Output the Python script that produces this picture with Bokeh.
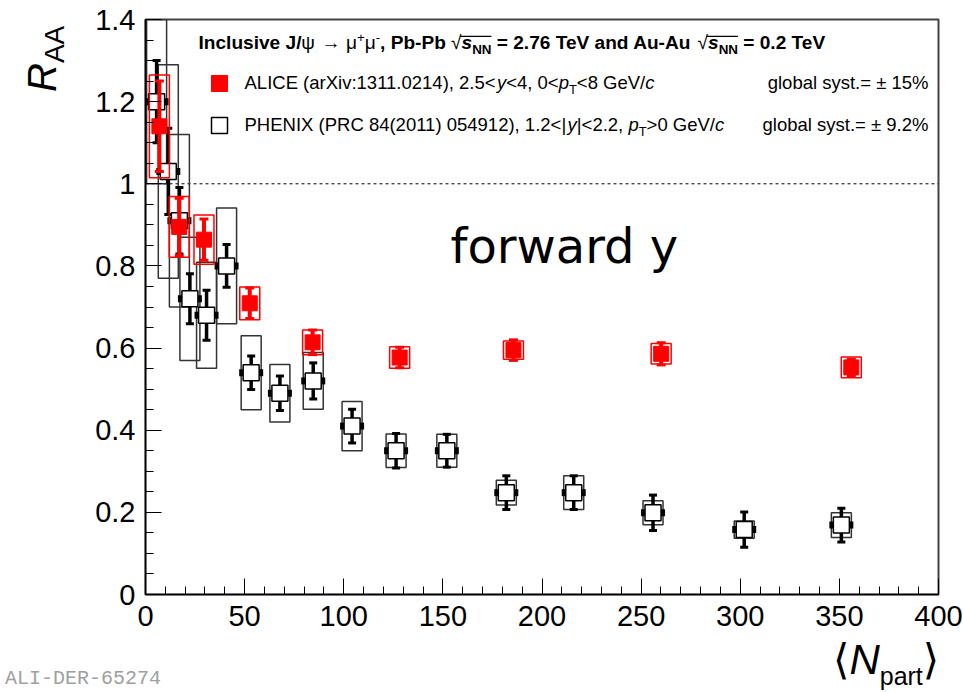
import numpy as np
from bokeh.plotting import figure
from bokeh.models import (ColumnDataSource, Range1d, FixedTicker, Label, Span,
                          Legend, LegendItem, BoxAnnotation, Div)
from bokeh.layouts import row, column
from bokeh.embed import file_html
from bokeh.resources import INLINE

# ---------------- data ----------------
alice_npart = [7.0, 17.0, 29.5, 52.6, 84.3, 128.2, 185.6, 260.1, 356.0]
alice_raa = [1.14, 0.895, 0.864, 0.709, 0.614, 0.577, 0.595, 0.586, 0.553]
alice_stat = [0.11, 0.07, 0.05, 0.037, 0.03, 0.025, 0.025, 0.027, 0.02]
alice_syst = [0.125, 0.074, 0.06, 0.04, 0.03, 0.026, 0.022, 0.025, 0.025]

phenix_npart = [5.6, 11.5, 17.1, 22.4, 30.8, 40.9, 53.3, 67.8, 84.6, 104.2,
                126.4, 152.0, 182.0, 216.0, 256.0, 302.0, 351.0]
phenix_raa = [1.20, 1.03, 0.91, 0.72, 0.68, 0.80, 0.54, 0.49, 0.52, 0.41,
              0.35, 0.35, 0.248, 0.248, 0.199, 0.158, 0.169]
phenix_stat = [0.10, 0.105, 0.081, 0.061, 0.061, 0.052, 0.041, 0.042, 0.044,
               0.041, 0.042, 0.040, 0.041, 0.041, 0.043, 0.043, 0.041]
phenix_syst = [0.20, 0.26, 0.21, 0.15, 0.129, 0.141, 0.09, 0.07, 0.069, 0.06,
               0.041, 0.04, 0.03, 0.041, 0.029, 0.021, 0.03]

x_ticks = [0, 50, 100, 150, 200, 250, 300, 350, 400]
y_ticks = [0.0, 0.2, 0.4, 0.6, 0.8, 1.0, 1.2, 1.4]
y_tick_labels = ["0", "0.2", "0.4", "0.6", "0.8", "1", "1.2", "1.4"]

# ---------------- layout constants ----------------
OX = 70          # width of the left label column (page px)
FIG_W = 963 - OX
FIG_H = 642

p = figure(width=FIG_W, height=FIG_H, x_range=Range1d(0, 400), y_range=Range1d(0, 1.4),
           output_backend="svg", toolbar_location=None,
           min_border_left=145 - OX, min_border_right=963 - 938, min_border_top=19,
           min_border_bottom=FIG_H - 594)
p.grid.visible = False
p.background_fill_color = "white"
p.border_fill_color = "white"
p.outline_line_color = "#444444"
p.outline_line_width = 2

p.xaxis.ticker = FixedTicker(ticks=x_ticks, minor_ticks=list(np.arange(0, 401, 10)))
p.yaxis.ticker = FixedTicker(ticks=y_ticks, minor_ticks=list(np.round(np.arange(0, 1.401, 0.05), 3)))
p.yaxis.major_label_overrides = dict(zip(y_ticks, y_tick_labels))
for ax in (p.xaxis, p.yaxis):
    ax.axis_line_color = "black"
    ax.axis_line_width = 1.5
    ax.major_tick_in = 16
    ax.major_tick_out = 0
    ax.minor_tick_in = 8
    ax.minor_tick_out = 0
    ax.major_tick_line_color = "black"
    ax.minor_tick_line_color = "black"
    ax.major_label_text_font = "Liberation Sans"
    ax.major_label_text_font_size = "29px"
    ax.major_label_text_color = "black"
p.xaxis.major_label_standoff = 11
p.yaxis.major_label_standoff = 10

p.add_layout(Span(location=1.0, dimension="width", line_color="black",
                  line_dash="3 3", line_width=1, level="underlay"))

# ---------------- sources ----------------
ph = ColumnDataSource(dict(
    x=phenix_npart, y=phenix_raa,
    lo=[v - e for v, e in zip(phenix_raa, phenix_stat)],
    hi=[v + e for v, e in zip(phenix_raa, phenix_stat)],
    h=[2 * s for s in phenix_syst]))
al = ColumnDataSource(dict(
    x=alice_npart, y=alice_raa,
    lo=[v - e for v, e in zip(alice_raa, alice_stat)],
    hi=[v + e for v, e in zip(alice_raa, alice_stat)],
    h=[2 * s for s in alice_syst]))

# PHENIX
p.rect("x", "y", width=20, height="h", width_units="screen", source=ph,
       fill_alpha=0, line_color="#333333", line_width=1.5)
p.segment("x", "lo", "x", "hi", source=ph, line_color="black", line_width=3.5)
for col in ("lo", "hi"):
    p.rect("x", col, width=8, height=3, width_units="screen", height_units="screen",
           source=ph, fill_color="black", line_alpha=0)
p.rect("x", "y", width=24, height=7, width_units="screen", height_units="screen",
       source=ph, fill_color="black", line_alpha=0)
phm = p.scatter("x", "y", marker="square", size=16, fill_color="white",
                line_color="black", line_width=1.5, source=ph)

# ALICE
p.rect("x", "y", width=20, height="h", width_units="screen", source=al,
       fill_alpha=0, line_color="#ff0000", line_width=1.5)
p.segment("x", "lo", "x", "hi", source=al, line_color="#ff0000", line_width=4)
for col in ("lo", "hi"):
    p.rect("x", col, width=9, height=3, width_units="screen", height_units="screen",
           source=al, fill_color="#ff0000", line_alpha=0)
am = p.scatter("x", "y", marker="square", size=15, fill_color="#ff0000",
               line_color="#ff0000", source=al)

# legend swatches
leg = Legend(items=[LegendItem(label=" ", renderers=[am]),
                    LegendItem(label=" ", renderers=[phm])],
             location=(54, 449), padding=0, margin=0, spacing=2,
             glyph_width=40, glyph_height=40, label_standoff=0, label_width=1,
             label_height=40, border_line_alpha=0, background_fill_alpha=0,
             label_text_font_size="1px")
p.add_layout(leg)

# ---------------- text helpers ----------------
REG = {' ': 278, '%': 889, '(': 333, ')': 333, '+': 584, ',': 278, '-': 333, '.': 278,
       '/': 278, ':': 278, '<': 584, '=': 584, '>': 584, '|': 260, '\u00b1': 584,
       '\u03bc': 576, '\u03c8': 780, '\u2192': 1000, '\u221a': 549,
       'A': 667, 'B': 667, 'C': 722, 'D': 722, 'E': 667, 'F': 611, 'G': 778, 'H': 722,
       'I': 278, 'J': 500, 'K': 667, 'L': 556, 'M': 833, 'N': 722, 'O': 778, 'P': 667,
       'Q': 778, 'R': 722, 'S': 667, 'T': 611, 'U': 722, 'V': 667, 'W': 944, 'X': 667,
       'Y': 667, 'Z': 611, 'a': 556, 'b': 556, 'c': 500, 'd': 556, 'e': 556, 'f': 278,
       'g': 556, 'h': 556, 'i': 222, 'j': 222, 'k': 500, 'l': 222, 'm': 833, 'n': 556,
       'o': 556, 'p': 556, 'q': 556, 'r': 333, 's': 500, 't': 278, 'u': 556, 'v': 500,
       'w': 722, 'x': 500, 'y': 500, 'z': 500}
BOLD = {' ': 278, '(': 333, ')': 333, ',': 278, '-': 333, '.': 278, '/': 278, '=': 584,
        'A': 722, 'B': 722, 'C': 722, 'D': 722, 'E': 667, 'I': 278, 'J': 556, 'N': 722,
        'P': 667, 'T': 611, 'V': 667, 'a': 556, 'b': 611, 'c': 556, 'd': 611, 'e': 556,
        'i': 278, 'l': 278, 'n': 611, 's': 556, 'u': 611, 'v': 556}

BASE_SHIFT = 0.36   # empirical: rendered baseline sits this many em below the anchor


def width_of(text, style, size):
    tab = BOLD if "bold" in style else REG
    return sum(tab.get(ch, REG.get(ch, 556)) for ch in text) * size / 1000.0


def put(text, x, y, size, style="normal", font="Liberation Sans", color="black",
        align="left"):
    # x, y: page pixels of the text start / baseline
    p.add_layout(Label(x=x - OX, y=y - BASE_SHIFT * size, x_units="canvas",
                       y_units="canvas", text=text,
                       text_font=font, text_font_size=f"{size:.1f}px",
                       text_font_style=style, text_color=color, text_align=align,
                       text_baseline="alphabetic"))


def run(pieces, x, y, size):
    pos = []
    for text, style, kind in pieces:
        s = size * 0.7 if kind else size
        dy = 0.25 * size if kind == "sub" else (-0.38 * size if kind == "sup" else 0)
        lead = len(text) - len(text.lstrip(' '))
        put(text.strip(' '), x + width_of(' ' * lead, style, s), y + dy, s, style)
        w = width_of(text, style, s)
        pos.append((x, w))
        x += w
    return pos


# title
title = [("Inclusive J/", "bold", None), ("\u03c8", "normal", None),
         (" \u2192 ", "normal", None), ("\u03bc", "normal", None), ("+", "normal", "sup"),
         ("\u03bc", "normal", None), ("-", "normal", "sup"), (", Pb-Pb ", "bold", None),
         ("\u221a", "normal", None), ("s", "bold italic", None), ("NN", "bold", "sub"),
         (" = 2.76 TeV and Au-Au ", "bold", None), ("\u221a", "normal", None),
         ("s", "bold italic", None), ("NN", "bold", "sub"), (" = 0.2 TeV", "bold", None)]
unit = sum(width_of(t, st, 0.7 if k else 1.0) for t, st, k in title)
tsize = 628.0 / unit
TB = 49
tpos = run(title, 198, TB, tsize)
for i_root in (8, 12):
    x0 = tpos[i_root][0] + tpos[i_root][1] * 0.85
    x1 = tpos[i_root + 2][0] + tpos[i_root + 2][1]
    top = TB - 0.72 * tsize
    p.add_layout(BoxAnnotation(left=x0 - OX, right=x1 - OX, top=top, bottom=top + 1.3,
                               left_units="canvas", right_units="canvas",
                               top_units="canvas", bottom_units="canvas",
                               fill_color="black", fill_alpha=1, line_alpha=0))

# legend text rows
LS = 18.5
row1 = [("ALICE (arXiv:1311.0214), 2.5<", "normal", None), ("y", "italic", None),
        ("<4, 0<", "normal", None), ("p", "italic", None), ("T", "normal", "sub"),
        ("<8 GeV/", "normal", None), ("c", "italic", None)]
row2 = [("PHENIX (PRC 84(2011) 054912), 1.2<|", "normal", None), ("y", "italic", None),
        ("|<2.2, ", "normal", None), ("p", "italic", None), ("T", "normal", "sub"),
        (">0 GeV/", "normal", None), ("c", "italic", None)]
run(row1, 244, 89, LS)
run(row2, 244, 131, LS)
put("global syst.= \u00b1 15%", 928, 89, LS, align="right")
put("global syst.= \u00b1 9.2%", 928, 131, LS, align="right")

# big annotation
put("forward y", 450, 263, 48, font="DejaVu Sans")

# ---------------- texts outside the frame (HTML) ----------------
ylab_html = (
    '<div style="position:relative;width:%dpx;height:%dpx;">'
    '<div style="position:absolute;left:22px;top:92px;transform:rotate(-90deg);'
    'transform-origin:0 0;white-space:nowrap;line-height:1;'
    "font-family:'Liberation Sans';font-size:40px;color:black;\">"
    '<i>R</i><span style="font-size:28px;vertical-align:-8px;">AA</span></div></div>'
    % (OX, FIG_H))
ydiv = Div(text=ylab_html, width=OX, height=FIG_H, margin=0)

BOT_H = 692 - FIG_H
xlab_html = (
    '<div style="position:relative;width:963px;height:%dpx;">'
    '<div style="position:absolute;left:833px;top:-3px;white-space:nowrap;line-height:1;'
    "font-family:'Liberation Sans';font-size:42px;color:black;\">"
    "<span style=\"font-family:'DejaVu Sans';\">\u27e8</span><i>N</i>"
    '<span style="font-size:25px;vertical-align:-11px;">part</span>'
    "<span style=\"font-family:'DejaVu Sans';\">\u27e9</span></div>"
    '<div style="position:absolute;left:5px;top:27px;white-space:nowrap;line-height:1;'
    "font-family:'Liberation Mono';font-size:20px;color:#a0a0a0;\">ALI-DER-65274</div>"
    '</div>' % BOT_H)
xdiv = Div(text=xlab_html, width=963, height=BOT_H, margin=0)

layout = column(row(ydiv, p, spacing=0), xdiv, spacing=0)

open("out.html", "w").write(file_html(layout, INLINE))
